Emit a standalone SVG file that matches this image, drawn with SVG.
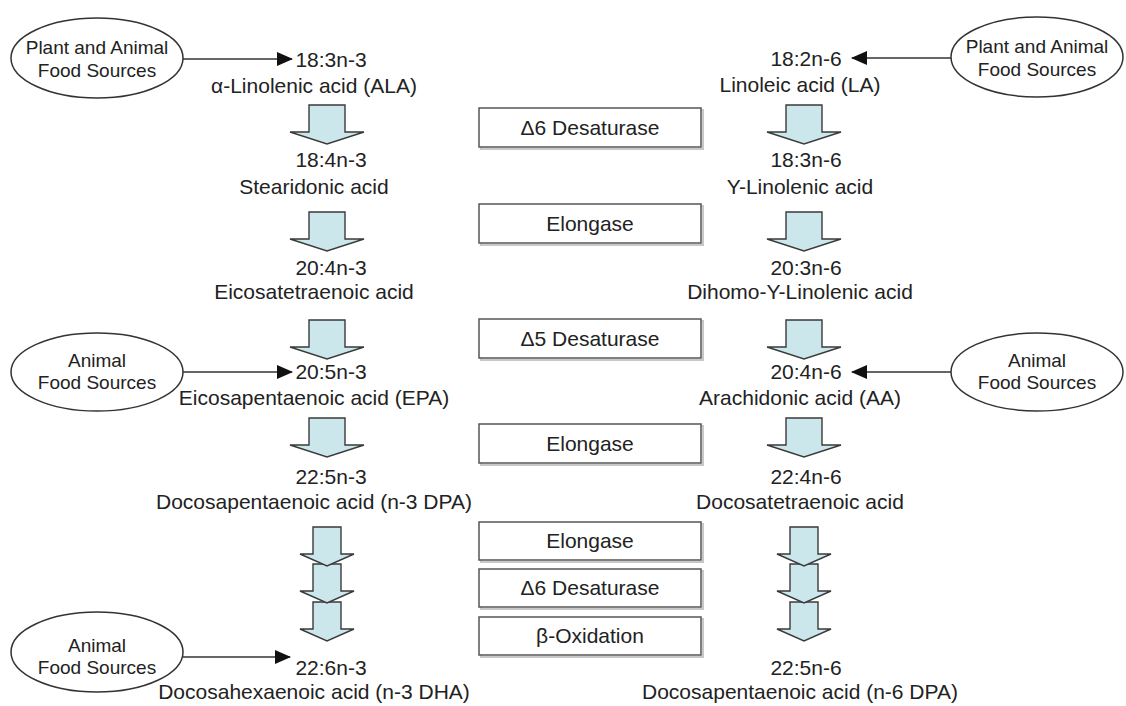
<svg xmlns="http://www.w3.org/2000/svg" width="1126" height="706" viewBox="0 0 1126 706">
  <style>
    text { font-family: "Liberation Sans", Arial, sans-serif; fill: #222; }
    .lbl { font-size: 21px; text-anchor: middle; }
    .src { font-size: 19px; text-anchor: middle; }
    .enz { font-size: 21px; text-anchor: middle; }
    .oval { fill: #fff; stroke: #333; stroke-width: 1.5; }
    .box { fill: #fff; stroke: #555; stroke-width: 1.5; }
    .boxsh { fill: none; stroke: #c8c8c8; stroke-width: 2; }
    .step { fill: #cbe7ec; stroke: #3a3a3a; stroke-width: 1.4; stroke-linejoin: miter; }
    .link { stroke: #333; stroke-width: 1.5; fill: none; marker-end: url(#tip); }
  </style>
  <defs>
    <marker id="tip" markerUnits="userSpaceOnUse" markerWidth="16" markerHeight="14" refX="15" refY="7" orient="auto">
      <path d="M0,0 L16,7 L0,14 Z" fill="#111"/>
    </marker>
    <!-- big conversion arrow, centred on x=0, top at y=0 -->
    <path id="big" d="M-18,0 L18,0 L18,27 L37,27 L0,39 L-37,27 L-18,27 Z"/>
    <!-- small arrow used in the stacked three-step conversion -->
    <path id="small" d="M-14,0 L14,0 L14,27 L27,27 L0,39 L-27,27 L-14,27 Z"/>
  </defs>

  <rect width="1126" height="706" fill="#fff"/>

  <!-- conversion arrows, n-3 column -->
  <g id="steps-n3" class="step">
    <use href="#big" x="327" y="105"/>
    <use href="#big" x="327" y="212"/>
    <use href="#big" x="327" y="320"/>
    <use href="#big" x="327" y="418"/>
    <use href="#small" x="327" y="602"/>
    <use href="#small" x="327" y="564"/>
    <use href="#small" x="327" y="527"/>
  </g>
  <!-- conversion arrows, n-6 column -->
  <g id="steps-n6" class="step">
    <use href="#big" x="804" y="105"/>
    <use href="#big" x="804" y="212"/>
    <use href="#big" x="804" y="320"/>
    <use href="#big" x="804" y="418"/>
    <use href="#small" x="804" y="602"/>
    <use href="#small" x="804" y="564"/>
    <use href="#small" x="804" y="527"/>
  </g>

  <!-- dietary intake connectors -->
  <g id="connectors">
    <line class="link" x1="183" y1="59" x2="292" y2="59"/>
    <line class="link" x1="951" y1="58" x2="852" y2="58"/>
    <line class="link" x1="183" y1="372" x2="292" y2="372"/>
    <line class="link" x1="951" y1="372" x2="852" y2="372"/>
    <line class="link" x1="183" y1="657" x2="290" y2="657"/>
  </g>

  <!-- food source ovals -->
  <g id="src-ala">
    <ellipse class="oval" cx="97" cy="58" rx="86" ry="40"/>
    <text class="src" x="97" y="54">Plant and Animal</text>
    <text class="src" x="97" y="77">Food Sources</text>
  </g>
  <g id="src-la">
    <ellipse class="oval" cx="1037" cy="57" rx="86" ry="40"/>
    <text class="src" x="1037" y="53">Plant and Animal</text>
    <text class="src" x="1037" y="76">Food Sources</text>
  </g>
  <g id="src-epa">
    <ellipse class="oval" cx="97" cy="372" rx="86" ry="39"/>
    <text class="src" x="97" y="367">Animal</text>
    <text class="src" x="97" y="389">Food Sources</text>
  </g>
  <g id="src-aa">
    <ellipse class="oval" cx="1037" cy="372" rx="86" ry="39"/>
    <text class="src" x="1037" y="367">Animal</text>
    <text class="src" x="1037" y="389">Food Sources</text>
  </g>
  <g id="src-dha">
    <ellipse class="oval" cx="97" cy="652" rx="86" ry="40"/>
    <text class="src" x="97" y="652">Animal</text>
    <text class="src" x="97" y="674">Food Sources</text>
  </g>

  <!-- n-3 fatty acids -->
  <g id="ala"><text class="lbl" x="331" y="67">18:3n-3</text><text class="lbl" x="314" y="93">α-Linolenic acid (ALA)</text></g>
  <g id="sda"><text class="lbl" x="331" y="167">18:4n-3</text><text class="lbl" x="314" y="194">Stearidonic acid</text></g>
  <g id="eta"><text class="lbl" x="331" y="275">20:4n-3</text><text class="lbl" x="314" y="299">Eicosatetraenoic acid</text></g>
  <g id="epa"><text class="lbl" x="331" y="379">20:5n-3</text><text class="lbl" x="314" y="405">Eicosapentaenoic acid (EPA)</text></g>
  <g id="dpa3"><text class="lbl" x="331" y="484">22:5n-3</text><text class="lbl" x="314" y="509">Docosapentaenoic acid (n-3 DPA)</text></g>
  <g id="dha"><text class="lbl" x="331" y="675">22:6n-3</text><text class="lbl" x="314" y="699">Docosahexaenoic acid (n-3 DHA)</text></g>

  <!-- n-6 fatty acids -->
  <g id="la"><text class="lbl" x="806" y="66">18:2n-6</text><text class="lbl" x="800" y="92">Linoleic acid (LA)</text></g>
  <g id="gla"><text class="lbl" x="806" y="167">18:3n-6</text><text class="lbl" x="800" y="194">Y-Linolenic acid</text></g>
  <g id="dgla"><text class="lbl" x="806" y="275">20:3n-6</text><text class="lbl" x="800" y="299">Dihomo-Y-Linolenic acid</text></g>
  <g id="aa"><text class="lbl" x="806" y="379">20:4n-6</text><text class="lbl" x="800" y="405">Arachidonic acid (AA)</text></g>
  <g id="adr"><text class="lbl" x="806" y="484">22:4n-6</text><text class="lbl" x="800" y="509">Docosatetraenoic acid</text></g>
  <g id="dpa6"><text class="lbl" x="806" y="675">22:5n-6</text><text class="lbl" x="800" y="699">Docosapentaenoic acid (n-6 DPA)</text></g>

  <!-- enzyme steps -->
  <g id="enz-d6a"><rect class="boxsh" x="481" y="110" width="222" height="39"/><rect class="box" x="479" y="108" width="222" height="39"/><text class="enz" x="590" y="135">Δ6 Desaturase</text></g>
  <g id="enz-elo1"><rect class="boxsh" x="481" y="206" width="222" height="39"/><rect class="box" x="479" y="204" width="222" height="39"/><text class="enz" x="590" y="231">Elongase</text></g>
  <g id="enz-d5"><rect class="boxsh" x="481" y="321" width="222" height="39"/><rect class="box" x="479" y="319" width="222" height="39"/><text class="enz" x="590" y="346">Δ5 Desaturase</text></g>
  <g id="enz-elo2"><rect class="boxsh" x="481" y="426" width="222" height="39"/><rect class="box" x="479" y="424" width="222" height="39"/><text class="enz" x="590" y="451">Elongase</text></g>
  <g id="enz-elo3"><rect class="boxsh" x="481" y="524" width="222" height="38"/><rect class="box" x="479" y="522" width="222" height="38"/><text class="enz" x="590" y="548">Elongase</text></g>
  <g id="enz-d6b"><rect class="boxsh" x="481" y="571" width="222" height="38"/><rect class="box" x="479" y="569" width="222" height="38"/><text class="enz" x="590" y="595">Δ6 Desaturase</text></g>
  <g id="enz-box"><rect class="boxsh" x="481" y="619" width="222" height="38"/><rect class="box" x="479" y="617" width="222" height="38"/><text class="enz" x="590" y="643">β-Oxidation</text></g>
</svg>
